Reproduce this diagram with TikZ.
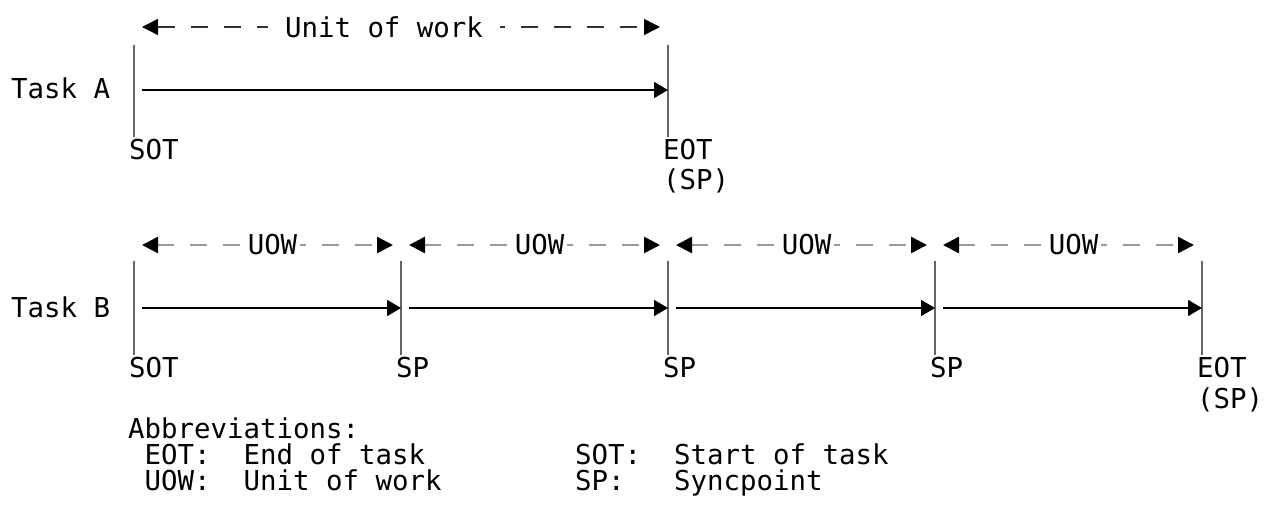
\documentclass[tikz,border=0pt]{standalone}
\usepackage{fontspec}
\setmonofont{DejaVu Sans Mono}
\usepackage{tikz}
\usetikzlibrary{arrows.meta}
\usetikzlibrary{positioning}
\usetikzlibrary{calc}
\tikzset{every node/.style={font=\ttfamily\fontsize{27.4pt}{31pt}\selectfont,inner sep=0pt},
tickline/.style={draw=black!60,line width=1.8pt},
flow/.style={-{Triangle[length=14pt,width=16pt]},line width=1.8pt,shorten <=8pt},
span/.style={{Triangle[length=16pt,width=16pt,color=black]}-{Triangle[length=16pt,width=16pt,color=black]},dash pattern=on 17pt off 16pt,shorten <=8pt,shorten >=8pt},
gap/.style={fill=white,inner xsep=3pt,inner ysep=2pt}}

\begin{document}
\begin{tikzpicture}[x=1pt,y=-1pt]
%[scale=0.5, every node/.style={scale=0.5}]
\useasboundingbox (0,0) rectangle (1272,511);

% task A
\node (taskA) at (11,99) [anchor=base west] {Task A};
\coordinate (a0) at (134,90);
\coordinate[right=534pt of a0] (a1);
\draw[tickline] (a0) ++(0,-45) -- ++(0,92);
\draw[tickline] (a1) ++(0,-45) -- ++(0,92);
\draw[flow] (a0) -- (a1);
\draw[span,draw=black!80,line width=1.5pt] ([yshift=63pt]a0) -- ([yshift=63pt]a1) node (uowA) [midway,xshift=-17pt,gap,inner xsep=17pt] {Unit of work~};
\node (sotA) at ([xshift=-5pt,yshift=-69pt]a0) [anchor=base west] {SOT};
\node (eotA) at ([xshift=-5pt,yshift=-69pt]a1) [anchor=base west] {EOT};
\node (spA) at ([yshift=-30pt]eotA.base west) [anchor=base west] {(SP)};

% task B
\node (taskB) at (11,317) [anchor=base west] {Task B};
\coordinate (b0) at (134,308);
\coordinate[right=267pt of b0] (b1);
\coordinate[right=267pt of b1] (b2);
\coordinate[right=267pt of b2] (b3);
\coordinate[right=267pt of b3] (b4);
\draw[tickline] (b0) ++(0,-47) -- ++(0,94);
\draw[tickline] (b1) ++(0,-47) -- ++(0,94);
\draw[tickline] (b2) ++(0,-47) -- ++(0,94);
\draw[tickline] (b3) ++(0,-47) -- ++(0,94);
\draw[tickline] (b4) ++(0,-47) -- ++(0,94);
\draw[flow] (b0) -- (b1);
\draw[flow] (b1) -- (b2);
\draw[flow] (b2) -- (b3);
\draw[flow] (b3) -- (b4);
\draw[span,draw=black!40,line width=2.5pt] ([yshift=63pt]b0) -- ([yshift=63pt]b1) node (uow1) [midway,xshift=5pt,gap] {UOW};
\draw[span,draw=black!40,line width=2.5pt] ([yshift=63pt]b1) -- ([yshift=63pt]b2) node (uow2) [midway,xshift=5pt,gap] {UOW};
\draw[span,draw=black!40,line width=2.5pt] ([yshift=63pt]b2) -- ([yshift=63pt]b3) node (uow3) [midway,xshift=5pt,gap] {UOW};
\draw[span,draw=black!40,line width=2.5pt] ([yshift=63pt]b3) -- ([yshift=63pt]b4) node (uow4) [midway,xshift=5pt,gap] {UOW};
\node (sotB) at ([xshift=-5pt,yshift=-69pt]b0) [anchor=base west] {SOT};
\node (sp1) at ([xshift=-5pt,yshift=-69pt]b1) [anchor=base west] {SP};
\node (sp2) at ([xshift=-5pt,yshift=-69pt]b2) [anchor=base west] {SP};
\node (sp3) at ([xshift=-5pt,yshift=-69pt]b3) [anchor=base west] {SP};
\node (eotB) at ([xshift=-5pt,yshift=-69pt]b4) [anchor=base west] {EOT};
\node (spB) at ([yshift=-31pt]eotB.base west) [anchor=base west] {(SP)};

% abbreviations
\node (abbr) at (128,438) [anchor=base west] {Abbreviations:};
\node (eotK) at ([xshift=16.5pt,yshift=-26pt]abbr.base west) [anchor=base west] {EOT:~~End of task};
\node (uowK) at ([yshift=-26pt]eotK.base west) [anchor=base west] {UOW:~~Unit of work};
\node (sotK) at ([xshift=447pt,yshift=-26pt]abbr.base west) [anchor=base west] {SOT:~~Start of task};
\node (spK) at ([yshift=-26pt]sotK.base west) [anchor=base west] {SP:~~~Syncpoint};
\end{tikzpicture}
\end{document}
